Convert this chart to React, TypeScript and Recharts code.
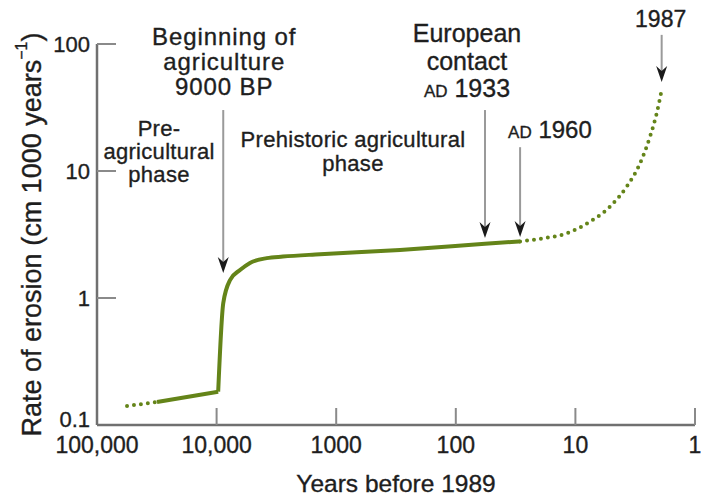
import React from 'react';
import { LineChart, Line, XAxis, YAxis, ReferenceLine, ReferenceDot } from 'recharts';

// Years before 1989 (x) and rate of erosion, cm per 1000 years (y)
const preAgriDottedYears = [56100, 31500];
const preAgriDottedRate = [0.141, 0.152];

const preAgriSolidYears = [31500, 9700];
const preAgriSolidRate = [0.152, 0.183];

const agriYears = [9700, 8800, 7700, 6370, 5260, 3810, 2790, 1365, 293, 57, 29];
const agriRate = [0.183, 0.91, 1.39, 1.66, 1.89, 2.06, 2.12, 2.21, 2.39, 2.67, 2.79];

const modernDottedYears = [29, 18.5, 11.8, 7.55, 5.14, 3.73, 2.88, 2.38, 2.09, 1.9];
const modernDottedRate = [2.79, 2.95, 3.23, 3.99, 5.24, 7.52, 11.5, 18.6, 28.5, 43.4];

const xTicks = [100000, 10000, 1000, 100, 10, 1];
const xTickLabels = ['100,000', '10,000', '1000', '100', '10', '1'];
const yTicks = [0.1, 1, 10, 100];
const yTickLabels = ['0.1', '1', '10', '100'];

// annotation arrows: x (years), top rate, tip rate
const arrowYears = [8800, 57, 29, 1.9];
const arrowTopRate = [30.2, 30.2, 15.4, 118];
const arrowTipRate = [1.57, 2.97, 3.02, 50.2];

const phaseLabelYears = [30300, 724];
const phaseLabelRate = [12.4, 15.4];

const zip = (xs: number[], ys: number[]) => xs.map((x, i) => ({ years: x, rate: ys[i] }));
const preData = zip(preAgriDottedYears, preAgriDottedRate);
const preSolidData = zip(preAgriSolidYears, preAgriSolidRate);
const agriData = zip(agriYears, agriRate);
const modernData = zip(modernDottedYears, modernDottedRate);

const FONT = 'Liberation Sans, Arial, Helvetica, sans-serif';
const GREEN = '#648419';
const TEXT = '#1e1e1e';
const TS = { stroke: TEXT, strokeWidth: 0.35 };

type TLine = { parts: { t: string; small?: boolean }[]; dy: number };

const annotations: {
  lines: TLine[];
  dx: number;
  anchor: 'middle' | 'start';
  size: number;
  ls: number;
}[] = [
  {
    anchor: 'middle',
    dx: 1,
    size: 24,
    ls: 0.9,
    lines: [
      { parts: [{ t: 'Beginning of' }], dy: -65 },
      { parts: [{ t: 'agriculture' }], dy: -40 },
      { parts: [{ t: '9000 BP' }], dy: -15 },
    ],
  },
  {
    anchor: 'middle',
    dx: -18,
    size: 25,
    ls: 0,
    lines: [
      { parts: [{ t: 'European' }], dy: -68 },
      { parts: [{ t: 'contact' }], dy: -40 },
      { parts: [{ t: 'AD', small: true }, { t: ' 1933' }], dy: -13 },
    ],
  },
  {
    anchor: 'start',
    dx: -12,
    size: 24,
    ls: 0,
    lines: [{ parts: [{ t: 'AD', small: true }, { t: ' 1960' }], dy: -9 }],
  },
  {
    anchor: 'middle',
    dx: -1,
    size: 23,
    ls: 0,
    lines: [{ parts: [{ t: '1987' }], dy: -8 }],
  },
];

const makeArrowShape = (idx: number) => (props: any) => {
  const { x1, y1, y2 } = props;
  const top = Math.min(y1, y2);
  const tip = Math.max(y1, y2);
  const x = x1;
  const ann = annotations[idx];
  return (
    <g>
      <line x1={x} y1={top} x2={x} y2={tip - 10} stroke="#9a9a9a" strokeWidth={2} />
      <path
        d={`M ${x - 5.5} ${tip - 16} L ${x} ${tip - 11} L ${x + 5.5} ${tip - 16} L ${x} ${tip} Z`}
        fill="#1a1a1a"
      />
      {ann.lines.map((ln, i) => (
        <text
          key={i}
          x={x + ann.dx}
          y={top + ln.dy}
          textAnchor={ann.anchor}
          fontFamily={FONT}
          fontSize={ann.size}
          letterSpacing={ann.ls}
          fill={TEXT}
          {...TS}
        >
          {ln.parts.map((p, j) => (
            <tspan key={j} fontSize={p.small ? 17 : ann.size}>
              {p.t}
            </tspan>
          ))}
        </text>
      ))}
    </g>
  );
};

const phaseTexts = [
  [
    { t: 'Pre-', dy: -23 },
    { t: 'agricultural', dy: 0 },
    { t: 'phase', dy: 23 },
  ],
  [
    { t: 'Prehistoric agricultural', dy: 0 },
    { t: 'phase', dy: 24 },
  ],
];

const makePhaseShape = (idx: number) => (props: any) => {
  const { cx, cy } = props;
  return (
    <g>
      {phaseTexts[idx].map((l, i) => (
        <text
          key={i}
          x={cx}
          y={cy + l.dy}
          textAnchor="middle"
          fontFamily={FONT}
          fontSize={22}
          letterSpacing={0.3}
          fill={TEXT}
          {...TS}
        >
          {l.t}
        </text>
      ))}
    </g>
  );
};

const XTick = (props: any) => {
  const { x, y, payload } = props;
  const i = xTicks.indexOf(payload.value);
  return (
    <g>
      {i > 0 && <line x1={x} y1={y} x2={x} y2={y - 17} stroke="#8a8a8a" strokeWidth={2} />}
      <text x={x} y={y + 28} textAnchor="middle" fontFamily={FONT} fontSize={23} fill={TEXT} {...TS}>
        {xTickLabels[i]}
      </text>
    </g>
  );
};

const YTick = (props: any) => {
  const { x, y, payload } = props;
  const i = yTicks.indexOf(payload.value);
  return (
    <g>
      {i > 0 && <line x1={x} y1={y} x2={x + 19} y2={y} stroke="#8a8a8a" strokeWidth={2} />}
      <text
        x={x - 7}
        y={y + (i === 0 ? 2 : 8)}
        textAnchor="end"
        fontFamily={FONT}
        fontSize={22}
        fill={TEXT}
        {...TS}
      >
        {yTickLabels[i]}
      </text>
    </g>
  );
};

const YLabel = (props: any) => {
  const vb = props.viewBox || {};
  const cx = 32;
  const cy = (vb.y ?? 44) + (vb.height ?? 381) / 2;
  return (
    <text
      x={cx}
      y={cy}
      transform={`rotate(-90, ${cx}, ${cy})`}
      textAnchor="middle"
      dominantBaseline="central"
      fontFamily={FONT}
      fontSize={27}
      fill={TEXT}
      {...TS}
    >
      Rate of erosion (cm 1000 years
      <tspan fontSize={16} dy={-11}>
        −1
      </tspan>
      <tspan dy={11}>)</tspan>
    </text>
  );
};

const XLabel = (props: any) => {
  const vb = props.viewBox || {};
  const cx = (vb.x ?? 97) + (vb.width ?? 598) / 2;
  return (
    <text x={cx} y={492} textAnchor="middle" fontFamily={FONT} fontSize={24.5} fill={TEXT} {...TS}>
      Years before 1989
    </text>
  );
};

const lineCommon = {
  dataKey: 'rate',
  stroke: GREEN,
  strokeWidth: 4,
  dot: false,
  activeDot: false,
  isAnimationActive: false,
} as const;

export default function App() {
  return (
    <div style={{ position: 'absolute', left: 0, top: 0, background: '#fff' }}>
      <LineChart width={702} height={499} margin={{ top: 44, right: 7, bottom: 0, left: 0 }}>
        <XAxis
          type="number"
          dataKey="years"
          scale="log"
          domain={[1, 100000]}
          reversed
          ticks={xTicks}
          tick={<XTick />}
          tickSize={0}
          tickMargin={0}
          height={74}
          axisLine={{ stroke: '#707070', strokeWidth: 2.5 }}
          allowDataOverflow
          label={<XLabel />}
        />
        <YAxis
          type="number"
          dataKey="rate"
          scale="log"
          domain={[0.1, 100]}
          ticks={yTicks}
          tick={<YTick />}
          tickSize={0}
          tickMargin={0}
          width={97}
          axisLine={{ stroke: '#707070', strokeWidth: 2.5 }}
          allowDataOverflow
          label={<YLabel />}
        />
        <Line {...lineCommon} data={preData} type="linear" strokeDasharray="0 7" strokeLinecap="round" />
        <Line {...lineCommon} data={preSolidData} type="linear" strokeLinecap="butt" />
        <Line {...lineCommon} data={agriData} type="monotoneX" strokeLinejoin="round" />
        <Line {...lineCommon} data={modernData} type="monotoneX" strokeDasharray="0 7" strokeLinecap="round" />
        {arrowYears.map((yr, i) => (
          <ReferenceLine
            key={'a' + i}
            segment={[
              { x: yr, y: arrowTopRate[i] },
              { x: yr, y: arrowTipRate[i] },
            ]}
            ifOverflow="visible"
            shape={makeArrowShape(i)}
          />
        ))}
        {phaseLabelYears.map((yr, i) => (
          <ReferenceDot
            key={'p' + i}
            x={yr}
            y={phaseLabelRate[i]}
            r={0}
            ifOverflow="visible"
            shape={makePhaseShape(i)}
          />
        ))}
      </LineChart>
    </div>
  );
}
